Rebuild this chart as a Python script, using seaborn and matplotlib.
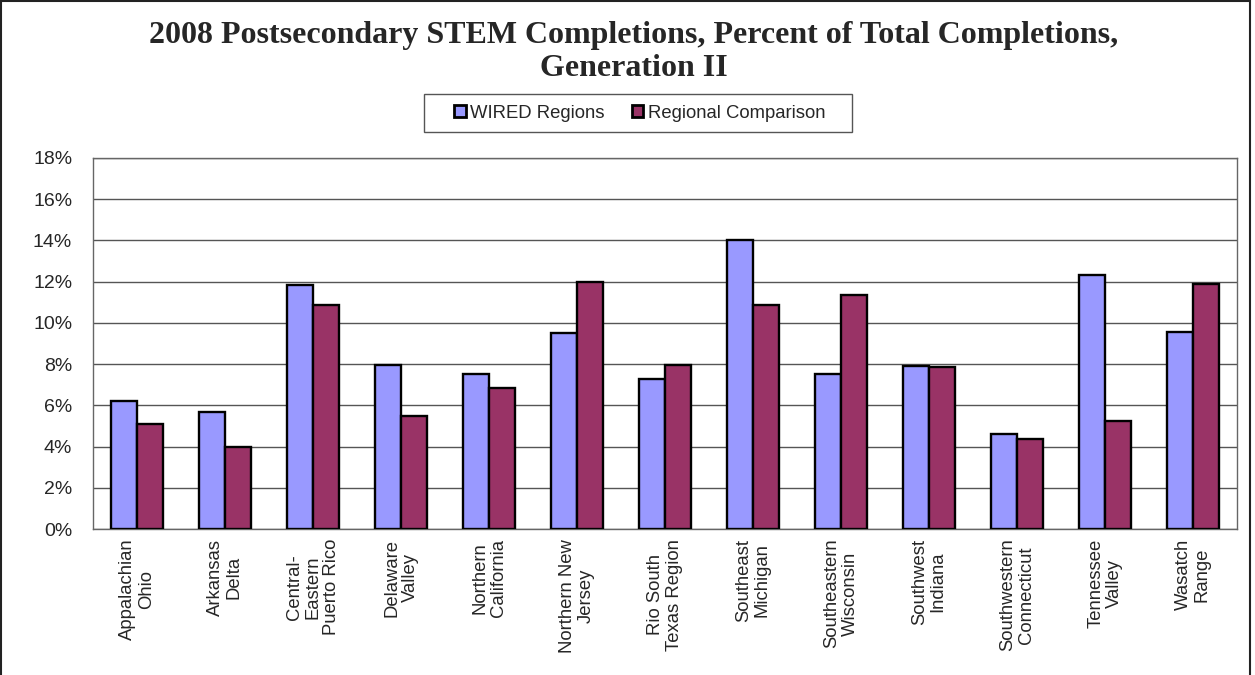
import matplotlib
matplotlib.use("Agg")
import matplotlib.pyplot as plt
import matplotlib.patches as mpatches
from matplotlib.ticker import FixedLocator, PercentFormatter
import seaborn as sns
import pandas as pd
import numpy as np

regions = [
    "Appalachian\nOhio", "Arkansas\nDelta", "Central-\nEastern\nPuerto Rico",
    "Delaware\nValley", "Northern\nCalifornia", "Northern New\nJersey",
    "Rio South\nTexas Region", "Southeast\nMichigan", "Southeastern\nWisconsin",
    "Southwest\nIndiana", "Southwestern\nConnecticut", "Tennessee\nValley",
    "Wasatch\nRange",
]
wired = [6.2, 5.7, 11.85, 7.95, 7.5, 9.5, 7.3, 14.0, 7.5, 7.9, 4.6, 12.3, 9.55]
comparison = [5.1, 4.0, 10.85, 5.5, 6.85, 12.0, 7.95, 10.85, 11.35, 7.88, 4.35, 5.25, 11.9]
series = ["WIRED Regions", "Regional Comparison"]
colors = ["#9999FF", "#993366"]
yticks = list(range(0, 19, 2))

df = pd.DataFrame({
    "region": regions * 2,
    "value": wired + comparison,
    "series": [series[0]] * len(regions) + [series[1]] * len(regions),
})

sns.set_style("white")
plt.rcParams["font.family"] = ["Liberation Sans", "DejaVu Sans"]

W, H = 1255, 675
fig = plt.figure(figsize=(W / 100, H / 100), dpi=100)
ax = fig.add_axes([93 / W, 1 - 529 / H, (1237 - 93) / W, (529 - 158) / H])

sns.barplot(data=df, x="region", y="value", hue="series", palette=colors,
            width=0.59, gap=0, edgecolor="black", linewidth=1.7,
            saturation=1, ax=ax, legend=True, zorder=3)

ax.set_ylim(0, 18)
ax.set_xlim(-0.5, len(regions) - 0.5)
ax.yaxis.set_major_locator(FixedLocator(yticks))
ax.yaxis.set_major_formatter(PercentFormatter(decimals=0))
ax.grid(axis="y", color="#555555", linewidth=1.0, zorder=0)
ax.set_axisbelow(True)
for s in ax.spines.values():
    s.set_color("#666666")
    s.set_linewidth(1.0)

ax.set_xlabel("")
ax.set_ylabel("")
ax.tick_params(axis="y", which="major", direction="out", length=6, width=1,
               color="#666666", labelsize=14, pad=9)
ax.tick_params(axis="x", which="major", length=0, labelsize=13.3, pad=7)
ax.set_xticks(range(len(regions)))
ax.set_xticklabels(regions, rotation=90, ha="center", va="top",
                   multialignment="center", linespacing=1.1)
ax.set_xticks(np.arange(-0.5, len(regions), 1.0), minor=True)
ax.tick_params(axis="x", which="minor", direction="out", length=6, width=1,
               color="#666666")

# Legend entries centred inside a separately drawn box
handles, labels = ax.get_legend_handles_labels()
ax.get_legend().remove()
leg = fig.legend(handles, labels, loc="center", bbox_to_anchor=(640 / W, 1 - 113 / H),
                 ncol=2, frameon=False, fontsize=13.3,
                 handlelength=0.6, handleheight=0.6, handletextpad=0.25,
                 columnspacing=1.5, borderpad=0.3, borderaxespad=0)
for h in leg.legend_handles:
    h.set_linewidth(2.0)
    h.set_edgecolor("black")
fig.patches.append(mpatches.Rectangle((424 / W, 1 - 132 / H), (852 - 424) / W, 38 / H,
                                      transform=fig.transFigure, fill=False,
                                      edgecolor="#555555", linewidth=1.0))

title_font = ["Liberation Serif", "DejaVu Serif"]
fig.text(0.505, 1 - 35 / H, "2008 Postsecondary STEM Completions, Percent of Total Completions,",
         ha="center", va="center", fontsize=23, fontweight="bold", family=title_font)
fig.text(0.505, 1 - 68 / H, "Generation II",
         ha="center", va="center", fontsize=23, fontweight="bold", family=title_font)

fig.patches.append(mpatches.Rectangle((1 / W, -0.05), 1249 / W, 1.05 - 1 / H,
                                      transform=fig.transFigure, fill=False,
                                      edgecolor="#222222", linewidth=1.5))

fig.savefig("out.png", dpi=100)
